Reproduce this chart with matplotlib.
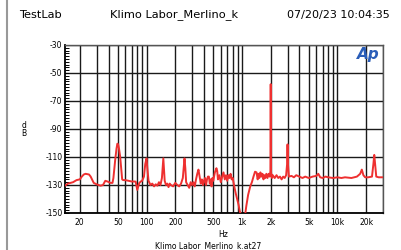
import matplotlib
matplotlib.use("Agg")
import matplotlib.pyplot as plt
from matplotlib.ticker import FixedLocator, FixedFormatter, MultipleLocator, LogLocator, NullFormatter

plt.rcParams["axes.unicode_minus"] = False

# frekans (Hz) ve seviye (dB) degerleri
frekans = [14, 15, 16, 17, 18.5, 20, 21, 22, 23, 25, 26, 28, 30, 33, 35, 37, 39, 42, 44,
           45, 47, 48.5, 49.5, 50.5, 51.5, 53, 55.6, 57, 60, 65, 70, 74, 77, 80, 84, 87,
           90, 94, 97, 100, 102, 105, 110, 115, 120, 125, 130, 135, 140, 145, 148, 150,
           152, 155, 160, 165, 170, 175, 180, 190, 200, 210, 220, 230, 240, 245, 250,
           255, 260, 270, 280, 290, 300, 310, 320, 330, 340, 350, 360, 370, 380, 390,
           400, 410, 420, 430, 440, 450, 460, 470, 480, 490, 500, 520, 540, 550, 560,
           580, 600, 620, 640, 660, 680, 700, 720, 740, 760, 780, 800, 830, 860, 890,
           920, 950, 980, 1080, 1110, 1160, 1220, 1270, 1320, 1370, 1420, 1460, 1490,
           1520, 1560, 1600, 1640, 1680, 1720, 1760, 1800, 1850, 1900, 1950, 1985, 2000,
           2015, 2060, 2100, 2200, 2300, 2400, 2500, 2600, 2700, 2800, 2900, 2970, 3000,
           3030, 3100, 3300, 3500, 3700, 4000, 4300, 4600, 5000, 5500, 6000, 6300, 6600,
           7000, 7500, 8000, 9000, 10000, 11000, 12000, 14000, 16000, 17300, 18000,
           18700, 19500, 21000, 23000, 23800, 24300, 24800, 25500, 27000, 30000]
seviye = [-130.5, -129, -128.5, -128, -126.5, -126, -124, -122.5, -122, -122.5, -124,
          -128.5, -129.5, -130.5, -130, -127, -127.5, -128.5, -128.5,
          -125, -112, -104, -100.5, -101, -104, -110, -126, -126.5, -126.5, -127, -127.5,
          -127.5, -127.6, -133.5, -128.6, -127.5,
          -127, -124, -115, -111, -118, -127, -130, -129, -131, -129.5, -130.5, -128,
          -130, -125, -117, -111,
          -117, -127, -130, -129, -131.5, -129, -130, -131, -128.5, -130, -131, -129,
          -125, -118, -111,
          -118, -128, -130, -132, -128, -130, -128, -131, -126, -122, -119, -124, -129,
          -126, -130,
          -127, -125, -130, -126, -124, -124, -129, -126, -131, -125, -127, -121, -118,
          -120, -126,
          -123, -128, -124, -121, -126, -123, -127, -123, -125, -122, -126, -125, -131,
          -136, -140,
          -144, -149, -151, -151, -145, -137, -131, -128, -124, -120.5, -121, -126, -122,
          -125, -121, -124, -122, -126, -123, -125, -122, -125, -122, -124, -120, -58,
          -121, -125, -123, -125, -123, -125, -124, -126, -124, -125, -123, -115, -101,
          -115, -124, -123.5, -124.5, -123, -124, -125, -124, -125, -124, -123.5, -122,
          -124.5,
          -125, -124, -124.5, -125, -124.5, -125, -124.5, -125, -124, -122, -119,
          -123, -124.5, -124.5, -124, -115, -108.5, -115, -124, -124.5, -124.5]

x_etiket = [20, 50, 100, 200, 500, 1000, 2000, 5000, 10000, 20000]
x_yazi = ["20", "50", "100", "200", "500", "1k", "2k", "5k", "10k", "20k"]
y_etiket = [-150, -130, -110, -90, -70, -50, -30]

W, H = 401, 250
fig = plt.figure(figsize=(W / 100, H / 100), dpi=100)
ax = fig.add_axes([65 / W, 1 - 213 / H, (383 - 65) / W, (213 - 45) / H])

ax.plot(frekans, seviye, color="#ee3030", lw=1.4, zorder=3)

ax.set_xscale("log")
ax.set_xlim(14, 30000)
ax.set_ylim(-150, -30)

ax.xaxis.set_major_locator(FixedLocator(x_etiket))
ax.xaxis.set_major_formatter(FixedFormatter(x_yazi))
ax.xaxis.set_minor_locator(LogLocator(base=10, subs=range(1, 10), numticks=20))
ax.xaxis.set_minor_formatter(NullFormatter())
ax.yaxis.set_major_locator(FixedLocator(y_etiket))
ax.yaxis.set_minor_locator(MultipleLocator(2))

ax.grid(True, which="both", axis="x", color="#1a1a1a", lw=1.0)
ax.grid(True, which="major", axis="y", color="#1a1a1a", lw=1.0)

ax.tick_params(axis="x", which="both", length=0, pad=3.5, labelsize=5.5)
ax.tick_params(axis="y", which="both", direction="in", length=3, width=0.7, pad=1.8,
               labelsize=5.5)

for s in ["left", "bottom"]:
    ax.spines[s].set_color("black")
    ax.spines[s].set_linewidth(1.3)
for s in ["top", "right"]:
    ax.spines[s].set_color("#555555")
    ax.spines[s].set_linewidth(1.0)

# ust baslik satiri
def px(x, y):
    return x / W, 1 - y / H

fig.text(*px(19, 15), "TestLab", fontsize=8.2, va="center", ha="left")
fig.text(*px(110, 15), "Klimo Labor_Merlino_k", fontsize=8.2, va="center", ha="left")
fig.text(*px(287, 15), "07/20/23 10:04:35", fontsize=8.0, va="center", ha="left")

fig.text(*px(24, 125), "d", fontsize=5.5, va="center", ha="center")
fig.text(*px(24, 134), "B", fontsize=5.5, va="center", ha="center")
fig.text(*px(223, 234.5), "Hz", fontsize=5.5, va="center", ha="center")
fig.text(*px(208.5, 245.5), "Klimo Labor_Merlino_k.at27", fontsize=5.5, va="center",
         ha="center")

# Ap logosu
fig.text(*px(368, 55), "Ap", fontsize=11, fontweight="bold", style="italic",
         color="#2a5db8", va="center", ha="center", zorder=5)

# sol gri cerceve cizgisi
fig.add_artist(plt.Line2D([7 / W, 7 / W], [0, 1], color="#999999", lw=1.5,
                          transform=fig.transFigure))

fig.savefig("out.png", dpi=100)
